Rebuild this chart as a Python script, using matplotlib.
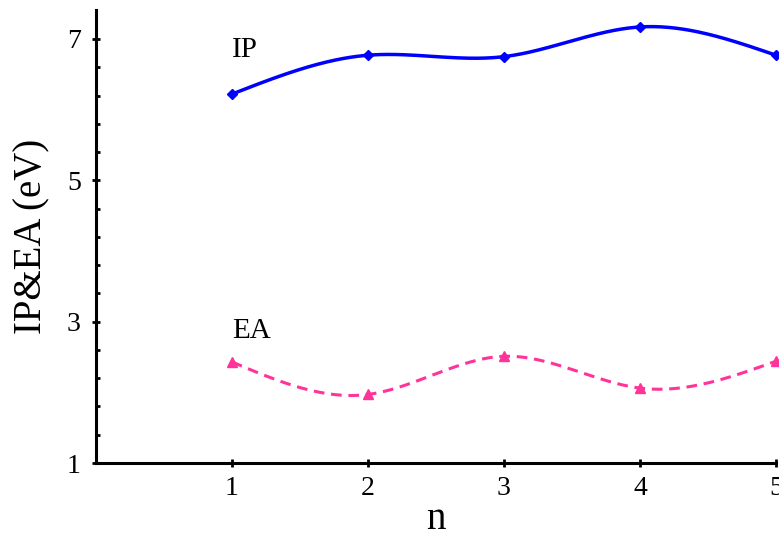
import numpy as np
import matplotlib
matplotlib.use("Agg")
import matplotlib.pyplot as plt

n = [1, 2, 3, 4, 5]
ip = [6.22, 6.77, 6.75, 7.17, 6.77]
ea = [2.43, 1.97, 2.51, 2.06, 2.44]
xticks = [1, 2, 3, 4, 5]
yticks = [1, 3, 5, 7]


def natural_spline(x, y, num=300):
    x = np.asarray(x, float)
    y = np.asarray(y, float)
    k = len(x)
    h = np.diff(x)
    A = np.zeros((k, k))
    b = np.zeros(k)
    A[0, 0] = A[-1, -1] = 1
    for i in range(1, k - 1):
        A[i, i - 1] = h[i - 1]
        A[i, i] = 2 * (h[i - 1] + h[i])
        A[i, i + 1] = h[i]
        b[i] = 6 * ((y[i + 1] - y[i]) / h[i] - (y[i] - y[i - 1]) / h[i - 1])
    M = np.linalg.solve(A, b)
    xs = np.linspace(x[0], x[-1], num)
    ys = np.empty_like(xs)
    for j, t in enumerate(xs):
        i = min(np.searchsorted(x, t, side="right") - 1, k - 2)
        dx1 = x[i + 1] - t
        dx0 = t - x[i]
        ys[j] = (M[i] * dx1**3 / (6 * h[i]) + M[i + 1] * dx0**3 / (6 * h[i])
                 + (y[i] / h[i] - M[i] * h[i] / 6) * dx1
                 + (y[i + 1] / h[i] - M[i + 1] * h[i] / 6) * dx0)
    return xs, ys


plt.rcParams['font.family'] = ['Liberation Serif', 'DejaVu Serif']

fig = plt.figure(figsize=(7.79, 5.37), dpi=100)
ax = fig.add_axes([0.1232, 0.1378, 0.8729, 0.8436])

blue = '#0000FF'
pink = '#FF3399'

xs, ys = natural_spline(n, ip)
ax.plot(xs, ys, color=blue, lw=2.5, clip_on=False)
ax.plot(n, ip, ls='none', marker='D', ms=5, color=blue, clip_on=False)

xs, ys = natural_spline(n, ea)
ax.plot(xs, ys, color=pink, lw=2.2, ls=(0, (3.5, 2.2)), clip_on=False)
ax.plot(n, ea, ls='none', marker='^', ms=7.5, color=pink, clip_on=False)

ax.text(1.0, 6.84, 'IP', fontsize=21, va='center', ha='left')
ax.text(1.0, 2.87, 'EA', fontsize=21, va='center', ha='left')

ax.set_xlim(0, 5)
ax.set_ylim(1, 7.41)
ax.set_xticks(xticks)
ax.set_yticks(yticks)
ax.set_yticks(np.arange(1, 7.3, 0.4), minor=True)
ax.tick_params(which='major', direction='inout', width=2, length=6, labelsize=20)
ax.tick_params(which='minor', direction='in', width=2, length=3)
ax.tick_params(axis='y', which='major', pad=8)
ax.tick_params(axis='x', which='major', pad=6)
ax.tick_params(axis='x', which='minor', bottom=False)

for s in ['top', 'right']:
    ax.spines[s].set_visible(False)
for s in ['left', 'bottom']:
    ax.spines[s].set_linewidth(2.2)

ax.set_xlabel('n', fontsize=28, labelpad=0)
ax.set_ylabel('IP&EA (eV)', fontsize=28, labelpad=12)

fig.savefig('out.png', dpi=100)
